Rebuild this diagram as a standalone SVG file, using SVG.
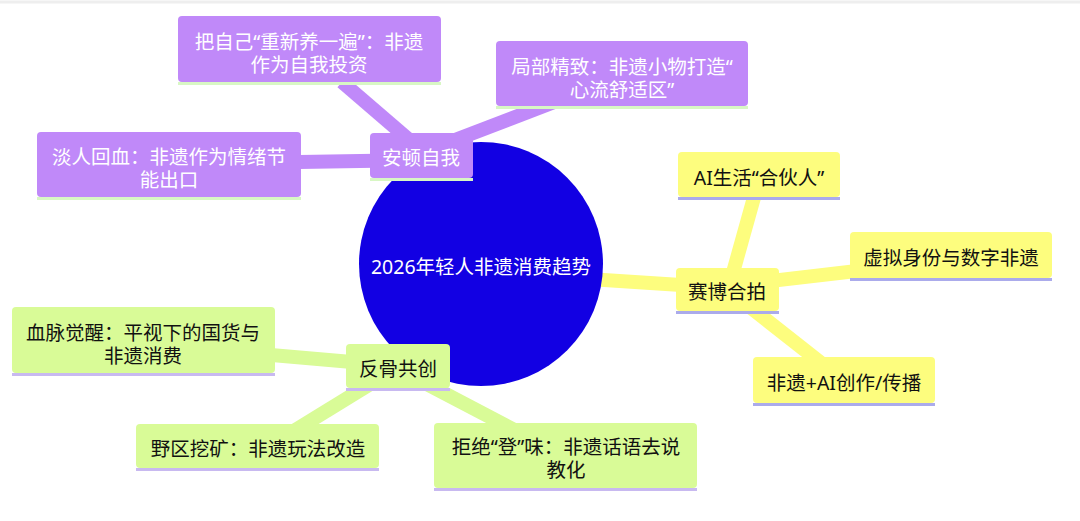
<svg xmlns="http://www.w3.org/2000/svg" width="1080" height="521" viewBox="0 0 1080 521">
<style>
text{font-family:"Noto Sans","Noto Sans CJK SC",sans-serif;font-size:19.5px;font-weight:400;text-anchor:middle;dominant-baseline:central}
.p rect.b{fill:#C089F9}.p rect.s{fill:#D8F7C4}.p text{fill:#fff}
.y rect.b{fill:#FDFD7E}.y rect.s{fill:#ABABEB}.y text{fill:#111}
.g rect.b{fill:#D9FB97}.g rect.s{fill:#C8B9F0}.g text{fill:#111}
.cp{stroke:#C089F9}.cy{stroke:#FDFD7E}.cg{stroke:#D9FB97}
#connectors line{stroke-width:14;stroke-linecap:butt}
</style>
<rect width="1080" height="521" fill="#fff"/>
<line x1="0" y1="2" x2="1080" y2="2" stroke="#eeeeee" stroke-width="3"/>
<g id="connectors">
<line class="cp" x1="421" y1="150" x2="342" y2="82"/>
<line class="cp" x1="421" y1="153" x2="622" y2="76"/>
<line class="cp" x1="168" y1="164" x2="421" y2="160"/>
<line class="cy" x1="481" y1="272" x2="727" y2="288"/>
<line class="cy" x1="727" y1="294" x2="760" y2="176"/>
<line class="cy" x1="727" y1="286" x2="951" y2="260"/>
<line class="cy" x1="727" y1="289" x2="844" y2="381"/>
<line class="cg" x1="398" y1="366" x2="143" y2="344"/>
<line class="cg" x1="398" y1="367" x2="258" y2="453"/>
<line class="cg" x1="400" y1="370" x2="566" y2="457"/>
</g>
<g id="root">
<circle cx="481" cy="264" r="122" fill="#1200E3"/>
<text x="481" y="266" fill="#fff">2026年轻人非遗消费趋势</text>
</g>
<g id="n-andun" class="p"><rect class="b" x="370" y="133" width="103" height="45" rx="4"/><rect class="s" x="370" y="178" width="103" height="3"/><text x="421" y="157">安顿自我</text></g>
<g id="n-yang" class="p"><rect class="b" x="178" y="16" width="263" height="66" rx="4"/><rect class="s" x="178" y="82" width="263" height="3"/><text x="309" y="41">把自己“重新养一遍”：非遗</text><text x="309" y="64">作为自我投资</text></g>
<g id="n-jubu" class="p"><rect class="b" x="496" y="41" width="252" height="65" rx="4"/><rect class="s" x="496" y="106" width="252" height="3"/><text x="622" y="66">局部精致：非遗小物打造“</text><text x="622" y="89">心流舒适区”</text></g>
<g id="n-danren" class="p"><rect class="b" x="37" y="132" width="264" height="65" rx="4"/><rect class="s" x="37" y="197" width="264" height="3"/><text x="169" y="156">淡人回血：非遗作为情绪节</text><text x="169" y="179">能出口</text></g>
<g id="n-saibo" class="y"><rect class="b" x="676" y="268" width="103" height="43" rx="4"/><rect class="s" x="676" y="311" width="103" height="3"/><text x="727" y="291">赛博合拍</text></g>
<g id="n-ai" class="y"><rect class="b" x="678" y="152" width="162" height="45" rx="4"/><rect class="s" x="678" y="197" width="162" height="3"/><text x="759" y="177">AI生活“合伙人”</text></g>
<g id="n-xuni" class="y"><rect class="b" x="850" y="232" width="202" height="46" rx="4"/><rect class="s" x="850" y="278" width="202" height="3"/><text x="951" y="257">虚拟身份与数字非遗</text></g>
<g id="n-chuangzuo" class="y"><rect class="b" x="753" y="357" width="182" height="46" rx="4"/><rect class="s" x="753" y="403" width="182" height="3"/><text x="844" y="382">非遗+AI创作/传播</text></g>
<g id="n-fangu" class="g"><rect class="b" x="346" y="344" width="104" height="44" rx="4"/><rect class="s" x="346" y="388" width="104" height="3"/><text x="398" y="368">反骨共创</text></g>
<g id="n-xuemai" class="g"><rect class="b" x="12" y="307" width="263" height="66" rx="4"/><rect class="s" x="12" y="373" width="263" height="3"/><text x="143" y="332">血脉觉醒：平视下的国货与</text><text x="143" y="355">非遗消费</text></g>
<g id="n-yequ" class="g"><rect class="b" x="136" y="424" width="243" height="44" rx="4"/><rect class="s" x="136" y="468" width="243" height="3"/><text x="258" y="448">野区挖矿：非遗玩法改造</text></g>
<g id="n-jujue" class="g"><rect class="b" x="434" y="423" width="263" height="65" rx="4"/><rect class="s" x="434" y="488" width="263" height="3"/><text x="566" y="446">拒绝“登”味：非遗话语去说</text><text x="566" y="469">教化</text></g>
</svg>
